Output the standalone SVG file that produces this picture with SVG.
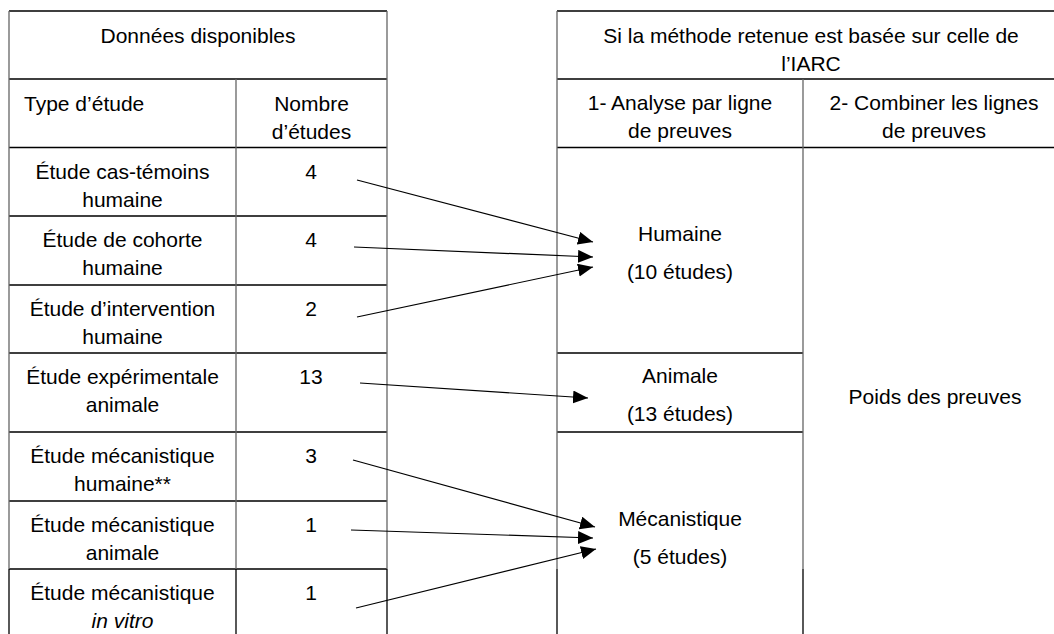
<svg xmlns="http://www.w3.org/2000/svg" width="1054" height="634" viewBox="0 0 1054 634">
  <style>
    text { font-family: "Liberation Sans", Arial, sans-serif; font-size: 21px; fill: #000; }
    .c { text-anchor: middle; }
    .h { stroke: #000; stroke-width: 1.5; fill: none; }
    .v { stroke: #666; stroke-width: 1.3; fill: none; }
    .vb { stroke: #000; stroke-width: 1.3; fill: none; }
    .arr { stroke: #000; stroke-width: 1.2; fill: none; marker-end: url(#ah); }
  </style>
  <defs>
    <marker id="ah" markerUnits="userSpaceOnUse" markerWidth="16" markerHeight="14" refX="15" refY="6.5" orient="auto">
      <path d="M0,0 L15,6.5 L0,13 Z" fill="#000"/>
    </marker>
  </defs>
  <rect width="1054" height="634" fill="#fff"/>

  <g id="grid-left">
    <path class="h" d="M9,11 H387 M9,79 H387 M9,147.5 H387 M9,216 H387 M9,285 H387 M9,353 H387 M9,432 H387 M9,501 H387 M9,569 H387"/>
    <path class="v" d="M9,11 V569 M236,79 V569 M387,11 V569"/>
    <path class="vb" d="M9,569 V634 M236,569 V634 M387,569 V634"/>
  </g>
  <g id="grid-right">
    <path class="h" d="M557,11 H1054 M557,79 H1054 M557,147.5 H1054 M557,353 H803 M557,432 H803"/>
    <path class="v" d="M557,11 V569 M803,79 V569"/>
    <path class="vb" d="M557,569 V634 M803,569 V634"/>
  </g>

  <g id="header-left"><text class="c" x="198" y="43">Données disponibles</text></g>
  <g id="col-type"><text x="24" y="111">Type d’étude</text></g>
  <g id="col-nombre"><text class="c" x="311.5" y="111">Nombre</text><text class="c" x="311.5" y="139">d’études</text></g>

  <g id="row1"><text class="c" x="122.5" y="178.5">Étude cas-témoins</text><text class="c" x="122.5" y="206.5">humaine</text><text class="c" x="311" y="178.5">4</text></g>
  <g id="row2"><text class="c" x="122.5" y="247">Étude de cohorte</text><text class="c" x="122.5" y="275">humaine</text><text class="c" x="311" y="247">4</text></g>
  <g id="row3"><text class="c" x="122.5" y="316">Étude d’intervention</text><text class="c" x="122.5" y="344">humaine</text><text class="c" x="311" y="316">2</text></g>
  <g id="row4"><text class="c" x="122.5" y="384">Étude expérimentale</text><text class="c" x="122.5" y="412">animale</text><text class="c" x="311" y="384">13</text></g>
  <g id="row5"><text class="c" x="122.5" y="463">Étude mécanistique</text><text class="c" x="122.5" y="491">humaine**</text><text class="c" x="311" y="463">3</text></g>
  <g id="row6"><text class="c" x="122.5" y="532">Étude mécanistique</text><text class="c" x="122.5" y="560">animale</text><text class="c" x="311" y="532">1</text></g>
  <g id="row7"><text class="c" x="122.5" y="600">Étude mécanistique</text><text class="c" x="122.5" y="628" font-style="italic">in vitro</text><text class="c" x="311" y="600">1</text></g>

  <g id="header-right"><text class="c" x="811" y="43">Si la méthode retenue est basée sur celle de</text><text class="c" x="811" y="71">l’IARC</text></g>
  <g id="col-analyse"><text class="c" x="680" y="110">1- Analyse par ligne</text><text class="c" x="680" y="138">de preuves</text></g>
  <g id="col-combiner"><text class="c" x="934" y="110">2- Combiner les lignes</text><text class="c" x="934" y="138">de preuves</text></g>

  <g id="node-humaine"><text class="c" x="680" y="241">Humaine</text><text class="c" x="680" y="279">(10 études)</text></g>
  <g id="node-animale"><text class="c" x="680" y="383">Animale</text><text class="c" x="680" y="421">(13 études)</text></g>
  <g id="node-mecanistique"><text class="c" x="680" y="526">Mécanistique</text><text class="c" x="680" y="564">(5 études)</text></g>
  <g id="node-poids"><text class="c" x="935" y="404">Poids des preuves</text></g>

  <g id="connectors">
    <line class="arr" x1="357" y1="180" x2="593" y2="242"/>
    <line class="arr" x1="354" y1="247" x2="593" y2="257"/>
    <line class="arr" x1="357" y1="317" x2="593" y2="267"/>
    <line class="arr" x1="360" y1="383" x2="588" y2="398"/>
    <line class="arr" x1="353" y1="460" x2="595" y2="527"/>
    <line class="arr" x1="351" y1="530" x2="593" y2="538"/>
    <line class="arr" x1="356" y1="608" x2="596" y2="549"/>
  </g>
</svg>
